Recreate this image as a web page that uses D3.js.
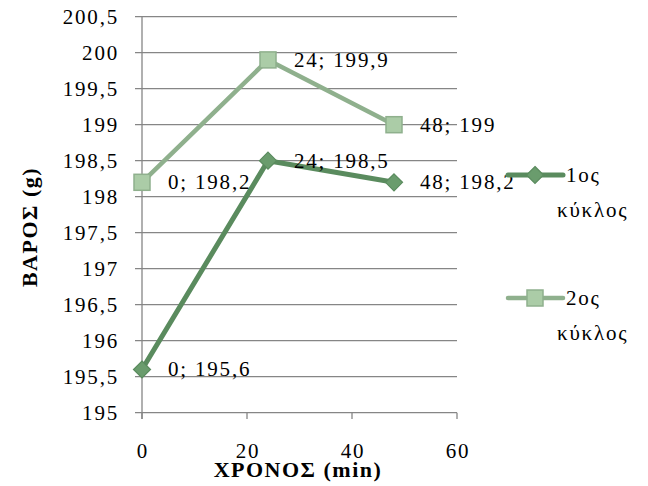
<!DOCTYPE html>
<html><head><meta charset="utf-8">
<script src="https://cdn.jsdelivr.net/npm/d3@7"></script>
<style>body{margin:0;background:#fff}svg{display:block}</style>
</head><body><svg id="c" width="648" height="486"></svg>
<script>
const times = [0, 24, 48];
const cycle1 = [195.6, 198.5, 198.2];
const cycle2 = [198.2, 199.9, 199];
const seriesNames = ["1ος κύκλος", "2ος κύκλος"];
const yTicks = [195, 195.5, 196, 196.5, 197, 197.5, 198, 198.5, 199, 199.5, 200, 200.5];
const xTicks = [0, 20, 40, 60];
const xTitle = "ΧΡΟΝΟΣ (min)";
const yTitle = "ΒΑΡΟΣ (g)";

const svg = d3.select("#c");
const x = d3.scaleLinear().domain([0, 60]).range([142, 457]);
const y = d3.scaleLinear().domain([195, 200.5]).range([412.7, 16.7]);
const fmt = v => String(v).replace(".", ",");
const T = (g) => g.append("text").style("font-family", "Liberation Serif").style("fill", "#000");

const gy = svg.append("g");
yTicks.forEach(t => {
  gy.append("line").attr("x1", 135).attr("x2", 457).attr("y1", y(t)).attr("y2", y(t))
    .attr("stroke", "#868686").attr("stroke-width", 1.3);
  T(gy).attr("x", 119).attr("y", y(t)).attr("dy", "0.33em").attr("text-anchor", "end")
    .style("font-size", "21px").style("letter-spacing", "1.8px").text(fmt(t));
});
gy.append("line").attr("x1", x(0)).attr("x2", x(0)).attr("y1", y(200.5)).attr("y2", 419)
  .attr("stroke", "#868686").attr("stroke-width", 1.3);
xTicks.forEach(t => {
  gy.append("line").attr("x1", x(t)).attr("x2", x(t)).attr("y1", y(195)).attr("y2", 419)
    .attr("stroke", "#868686").attr("stroke-width", 1.3);
  T(gy).attr("x", x(t) + 1).attr("y", 458).attr("text-anchor", "middle")
    .style("font-size", "21px").style("letter-spacing", "1.8px").text(t);
});

T(svg).attr("x", 298).attr("y", 477).attr("text-anchor", "middle")
  .style("font-size", "22px").style("font-weight", "bold").style("letter-spacing", "1.5px").text(xTitle);
T(svg).attr("transform", "translate(37,227) rotate(-90)").attr("text-anchor", "middle")
  .style("font-size", "22px").style("font-weight", "bold").style("letter-spacing", "1.5px").text(yTitle);

const c1 = {line: "#5a8b5e", fill: "#6a9c6d", stroke: "#5a8b5e"};
const c2 = {line: "#8fb08d", fill: "#abcca7", stroke: "#8fb08d"};
const line = d3.line().x(d => x(d[0])).y(d => y(d[1]));
const pts1 = times.map((t, i) => [t, cycle1[i]]);
const pts2 = times.map((t, i) => [t, cycle2[i]]);

svg.append("path").attr("d", line(pts2)).attr("fill", "none").attr("stroke", c2.line).attr("stroke-width", 4.5);
svg.append("path").attr("d", line(pts1)).attr("fill", "none").attr("stroke", c1.line).attr("stroke-width", 5);

function square(g, cx, cy, col) {
  g.append("rect").attr("x", cx - 8).attr("y", cy - 8).attr("width", 16).attr("height", 16)
    .attr("fill", col.fill).attr("stroke", col.stroke).attr("stroke-width", 1.5);
}
function diamond(g, cx, cy, col) {
  g.append("path").attr("d", `M${cx},${cy - 8.5}L${cx + 8.5},${cy}L${cx},${cy + 8.5}L${cx - 8.5},${cy}Z`)
    .attr("fill", col.fill).attr("stroke", col.stroke).attr("stroke-width", 1.2);
}
pts2.forEach(p => square(svg, x(p[0]), y(p[1]), c2));
pts1.forEach(p => diamond(svg, x(p[0]), y(p[1]), c1));

const lab = svg.append("g");
[pts1, pts2].forEach(pts => pts.forEach(p => {
  T(lab).attr("x", x(p[0]) + 26).attr("y", y(p[1])).attr("dy", "0.33em")
    .style("font-size", "21px").style("letter-spacing", "1.8px").text(p[0] + "; " + fmt(p[1]));
}));

const leg = [{name: seriesNames[0], col: c1, mk: diamond, y: 175, w: 5},
             {name: seriesNames[1], col: c2, mk: square, y: 298, w: 4.5}];
leg.forEach(l => {
  svg.append("line").attr("x1", 508).attr("x2", 563).attr("y1", l.y).attr("y2", l.y)
    .attr("stroke", l.col.line).attr("stroke-width", l.w).attr("stroke-linecap", "round");
  l.mk(svg, 535, l.y, l.col);
  const parts = l.name.split(" ");
  T(svg).attr("x", 566).attr("y", l.y).attr("dy", "0.33em").style("font-size", "21px")
    .style("letter-spacing", "1.8px").text(parts[0]);
  T(svg).attr("x", 557).attr("y", l.y + 35).attr("dy", "0.33em").style("font-size", "21px")
    .style("letter-spacing", "1.8px").text(parts[1]);
});
</script></body></html>
